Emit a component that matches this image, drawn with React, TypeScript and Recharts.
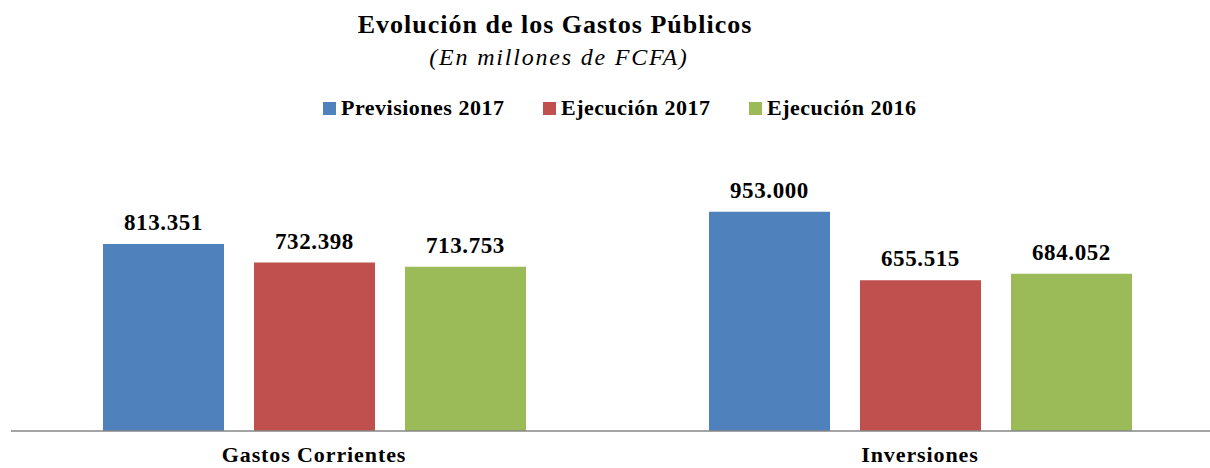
import { BarChart, Bar, XAxis, YAxis, LabelList } from "recharts";

const categories = ["Gastos Corrientes", "Inversiones"];
const previsiones2017 = [813.351, 953.0];
const ejecucion2017 = [732.398, 655.515];
const ejecucion2016 = [713.753, 684.052];

const seriesNames = ["Previsiones 2017", "Ejecución 2017", "Ejecución 2016"];
const seriesColors = ["#4F81BD", "#C0504D", "#9BBB59"];
const legendLeft = [323, 543, 749];

const data = categories.map((name, i) => ({
  name,
  prev17: previsiones2017[i],
  ejec17: ejecucion2017[i],
  ejec16: ejecucion2016[i],
}));

const font = '"Liberation Serif", "Times New Roman", serif';

const fmt = (v: number) => v.toFixed(3);

function ValueLabel(props: any) {
  const { x, y, width, value } = props;
  return (
    <text
      x={x + width / 2}
      y={y - 14}
      textAnchor="middle"
      fontFamily={font}
      fontWeight="bold"
      fontSize={23}
      letterSpacing={0.6}
      fill="#000"
    >
      {fmt(value)}
    </text>
  );
}

function CatTick(props: any) {
  const { x, y, payload } = props;
  return (
    <text
      x={x}
      y={y + 23}
      textAnchor="middle"
      fontFamily={font}
      fontWeight="bold"
      fontSize={22}
      letterSpacing={0.9}
      fill="#000"
    >
      {payload.value}
    </text>
  );
}

export default function App() {
  return (
    <div
      style={{
        position: "absolute",
        left: 0,
        top: 0,
        width: 1210,
        height: 468,
        overflow: "hidden",
        background: "#fff",
        fontFamily: font,
        color: "#000",
      }}
    >
      <div
        style={{
          position: "absolute",
          left: 305,
          width: 500,
          top: 10,
          textAlign: "center",
          fontWeight: "bold",
          fontSize: 26,
          letterSpacing: 1,
          whiteSpace: "nowrap",
        }}
      >
        Evolución de los Gastos Públicos
      </div>
      <div
        style={{
          position: "absolute",
          left: 309,
          width: 500,
          top: 44,
          textAlign: "center",
          fontStyle: "italic",
          fontSize: 24,
          letterSpacing: 1.8,
          whiteSpace: "nowrap",
        }}
      >
        (En millones de FCFA)
      </div>
      {seriesNames.map((n, i) => (
        <div
          key={n}
          style={{
            position: "absolute",
            left: legendLeft[i],
            top: 95,
            display: "flex",
            alignItems: "center",
            fontWeight: "bold",
            fontSize: 22,
            letterSpacing: 0.5,
            whiteSpace: "nowrap",
          }}
        >
          <span
            style={{
              display: "inline-block",
              width: 13,
              height: 13,
              background: seriesColors[i],
              marginRight: 5,
            }}
          />
          <span>{n}</span>
        </div>
      ))}
      <div style={{ position: "absolute", left: 0, top: 0 }}>
        <BarChart
          width={1230}
          height={468}
          data={data}
          margin={{ top: 155, right: 7, left: 11, bottom: 0 }}
          barSize={121}
          barGap={30}
        >
          <XAxis
            dataKey="name"
            axisLine={{ stroke: "#868686", strokeWidth: 1.5 }}
            tickLine={false}
            height={37}
            tick={<CatTick />}
            interval={0}
          />
          <YAxis hide domain={[0, 1200]} />
          <Bar dataKey="prev17" fill={seriesColors[0]} isAnimationActive={false}>
            <LabelList dataKey="prev17" content={<ValueLabel />} />
          </Bar>
          <Bar dataKey="ejec17" fill={seriesColors[1]} isAnimationActive={false}>
            <LabelList dataKey="ejec17" content={<ValueLabel />} />
          </Bar>
          <Bar dataKey="ejec16" fill={seriesColors[2]} isAnimationActive={false}>
            <LabelList dataKey="ejec16" content={<ValueLabel />} />
          </Bar>
        </BarChart>
      </div>
    </div>
  );
}
